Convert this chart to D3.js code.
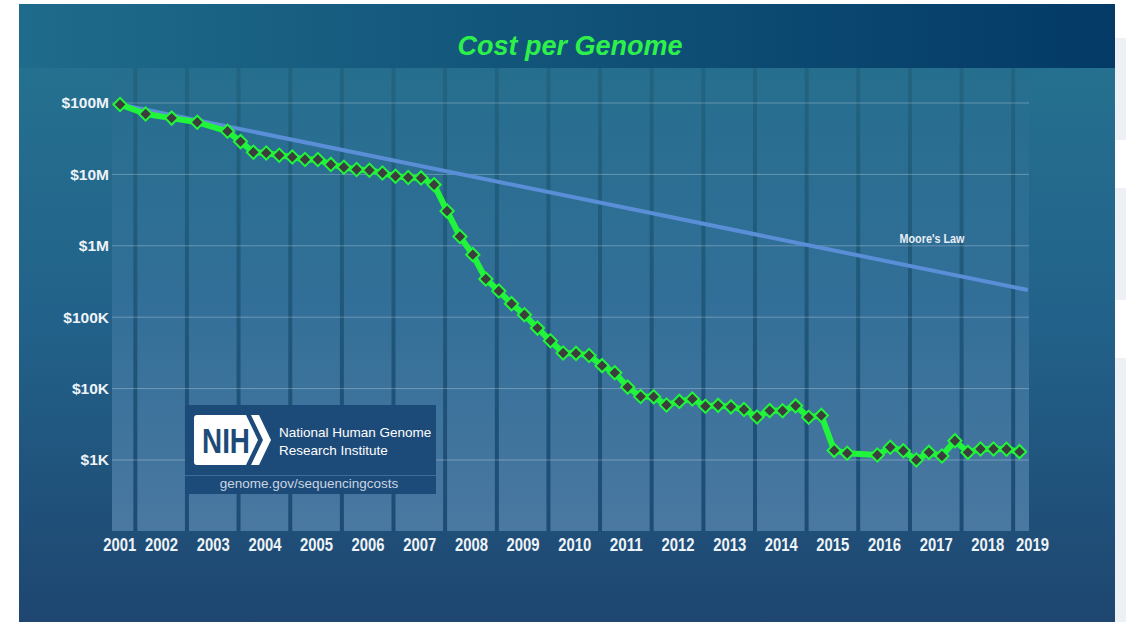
<!DOCTYPE html>
<html>
<head>
<meta charset="utf-8">
<script src="https://cdn.jsdelivr.net/npm/d3@7"></script>
<style>
  body { margin: 0; background: #fff; }
  svg { display: block; font-family: "Liberation Sans", Arial, sans-serif; }
</style>
</head>
<body>
<svg id="chart"></svg>
<script>
// sampling dates (year-month) and cost per genome in dollars
const months = [
  "2001-09", "2002-03", "2002-09", "2003-03", "2003-10",
  "2004-01", "2004-04", "2004-07", "2004-10",
  "2005-01", "2005-04", "2005-07", "2005-10",
  "2006-01", "2006-04", "2006-07", "2006-10",
  "2007-01", "2007-04", "2007-07", "2007-10",
  "2008-01", "2008-04", "2008-07", "2008-10",
  "2009-01", "2009-04", "2009-07", "2009-10",
  "2010-01", "2010-04", "2010-07", "2010-10",
  "2011-01", "2011-04", "2011-07", "2011-10",
  "2012-01", "2012-04", "2012-07", "2012-10",
  "2013-01", "2013-04", "2013-07", "2013-10",
  "2014-01", "2014-04", "2014-07", "2014-10",
  "2015-01", "2015-04", "2015-07", "2015-10",
  "2016-05", "2016-08", "2016-11",
  "2017-02", "2017-05", "2017-08", "2017-11",
  "2018-02", "2018-05", "2018-08", "2018-11",
  "2019-02"
]
const costs = [
  95263072, 70175437, 61448422, 53751684, 40157554,
  28780376, 20442576, 19934346, 18519312,
  17534970, 16159699, 16180224, 13801124,
  12585659, 11732535, 11455315, 10474556,
  9408739, 9047003, 8927342, 7147571,
  3063820, 1352982, 752080, 342502,
  232735, 154714, 108065, 70333,
  46774, 31512, 31125, 29092,
  20963, 16712, 10497, 7743,
  7666, 5901, 6618, 7147,
  5671, 5826, 5550, 5096,
  4008, 4920, 4905, 5731,
  3970, 4211, 1363, 1245,
  1175, 1510, 1350,
  1000, 1280, 1140, 1860,
  1280, 1425, 1425, 1415,
  1310
]

// Moore's law reference line (two ends)
const mooreMonths = ["2001-09", "2019-04"]
const mooreCosts = [95263072, 240000]

const yTicks = [1e8, 1e7, 1e6, 1e5, 1e4, 1e3]
const yTickLabels = ["$100M", "$10M", "$1M", "$100K", "$10K", "$1K"]
const years = [2001, 2002, 2003, 2004, 2005, 2006, 2007, 2008, 2009, 2010,
  2011, 2012, 2013, 2014, 2015, 2016, 2017, 2018, 2019]
const yearLabelDates = ["2001-09-10", "2002-07-02", "2003-07-02", "2004-07-02", "2005-07-02",
  "2006-07-02", "2007-07-02", "2008-07-02", "2009-07-02", "2010-07-02", "2011-07-02",
  "2012-07-02", "2013-07-02", "2014-07-02", "2015-07-02", "2016-07-02", "2017-07-02",
  "2018-07-02", "2019-05-15"]

const w = 1126
const h = 622
const plotLeft = 112, plotRight = 1029, plotTop = 68, plotBottom = 531

const parseMonth = d3.timeParse("%Y-%m")
const parseDay = d3.timeParse("%Y-%m-%d")
const midMonth = s => d3.timeDay.offset(parseMonth(s), 14)

const data = months.map((m, i) => ({ date: midMonth(m), cost: costs[i] }))
const moore = mooreMonths.map((m, i) => ({ date: midMonth(m), cost: mooreCosts[i] }))

const x = d3.scaleTime()
  .domain([new Date(2001, 6, 20), new Date(2019, 3, 23)])
  .range([plotLeft, plotRight])
const y = d3.scaleLog()
  .domain([1e3, 1e8])
  .range([460, 103])

const svg = d3.select("#chart").attr("width", w).attr("height", h)
const defs = svg.append("defs")

function vGrad(id, y1, y2, stops) {
  const g = defs.append("linearGradient").attr("id", id)
    .attr("gradientUnits", "userSpaceOnUse")
    .attr("x1", 0).attr("x2", 0).attr("y1", y1).attr("y2", y2)
  stops.forEach(s => g.append("stop").attr("offset", s[0]).attr("stop-color", s[1]))
}
vGrad("panelGrad", 68, 622, [[0, "#25708f"], [0.45, "#22628a"], [1, "#1e4670"]])
vGrad("colGrad", 68, 531, [[0, "#266e8e"], [0.5, "#326f98"], [1, "#4a78a1"]])
vGrad("stripeGrad", 68, 531, [[0, "#22647f"], [1, "#1e4b75"]])
const tg = defs.append("linearGradient").attr("id", "titleGrad")
  .attr("x1", 0).attr("x2", 1).attr("y1", 0).attr("y2", 0)
tg.append("stop").attr("offset", 0).attr("stop-color", "#1f6b8b")
tg.append("stop").attr("offset", 1).attr("stop-color", "#033a66")

// light shapes on the right margin
svg.selectAll("rect.margin")
  .data([[38, 102], [188, 112], [358, 264]])
  .enter().append("rect")
  .attr("x", 1115).attr("width", 11)
  .attr("y", d => d[0]).attr("height", d => d[1])
  .attr("fill", "#edf0f4")

// panel + title band
svg.append("rect").attr("x", 19).attr("y", 4).attr("width", 1096).attr("height", 618)
  .attr("fill", "url(#panelGrad)")
svg.append("rect").attr("x", 19).attr("y", 4).attr("width", 1096).attr("height", 64)
  .attr("fill", "url(#titleGrad)")
svg.append("text")
  .attr("x", 570).attr("y", 55)
  .attr("text-anchor", "middle")
  .attr("font-size", 27).attr("font-weight", "bold").attr("font-style", "italic")
  .attr("fill", "#2ef04b")
  .text("Cost per Genome")

// plot columns
svg.append("rect")
  .attr("x", plotLeft).attr("y", plotTop)
  .attr("width", plotRight - plotLeft).attr("height", plotBottom - plotTop)
  .attr("fill", "url(#colGrad)")
const yearStarts = years.slice(1).map(yr => new Date(yr, 0, 1))
svg.selectAll("rect.stripe")
  .data(yearStarts)
  .enter().append("rect")
  .attr("class", "stripe")
  .attr("x", d => x(d) - 2).attr("width", 4)
  .attr("y", plotTop).attr("height", plotBottom - plotTop)
  .attr("fill", "url(#stripeGrad)")

// gridlines
svg.selectAll("line.grid")
  .data(yTicks)
  .enter().append("line")
  .attr("x1", plotLeft).attr("x2", plotRight)
  .attr("y1", d => y(d)).attr("y2", d => y(d))
  .attr("stroke", "#ffffff").attr("stroke-opacity", 0.28).attr("stroke-width", 1)

// y axis
const yAxis = svg.append("g")
  .attr("transform", `translate(109,0)`)
  .call(d3.axisLeft(y).tickValues(yTicks).tickFormat((d, i) => yTickLabels[i]).tickSize(0).tickPadding(0))
yAxis.select(".domain").remove()
yAxis.selectAll("text")
  .attr("font-size", 15.5).attr("font-weight", "bold")
  .attr("font-family", "Liberation Sans, Arial, sans-serif")
  .attr("fill", "#eef3f8")

// x axis
const xAxis = svg.append("g")
  .attr("transform", `translate(0,${plotBottom})`)
  .call(d3.axisBottom(x).tickValues(yearLabelDates.map(parseDay)).tickFormat((d, i) => years[i]).tickSize(0).tickPadding(7))
xAxis.select(".domain").remove()
xAxis.selectAll("text")
  .attr("font-size", 18).attr("font-weight", "bold")
  .attr("font-family", "Liberation Sans Narrow, Liberation Sans, Arial, sans-serif")
  .attr("textLength", 33).attr("lengthAdjust", "spacingAndGlyphs")
  .attr("fill", "#eef3f8")

// NIH box
const nih = svg.append("g")
nih.append("rect").attr("x", 185).attr("y", 405).attr("width", 251).attr("height", 89)
  .attr("fill", "#1d4b79")
nih.append("line").attr("x1", 185).attr("x2", 436).attr("y1", 475.5).attr("y2", 475.5)
  .attr("stroke", "#3f6d9b").attr("stroke-width", 1)
nih.append("path")
  .attr("d", "M197,415 H246 L258,440 L246,465 H197 Q194,465 194,462 V418 Q194,415 197,415 Z")
  .attr("fill", "#ffffff")
nih.append("path")
  .attr("d", "M251,415 H259 L271,440 L259,465 H251 L263,440 Z")
  .attr("fill", "#ffffff")
nih.append("text").attr("x", 202).attr("y", 453)
  .attr("font-size", 35).attr("font-weight", "bold").attr("fill", "#1d4b79")
  .attr("textLength", 48).attr("lengthAdjust", "spacingAndGlyphs")
  .text("NIH")
nih.append("text").attr("x", 279).attr("y", 437)
  .attr("font-size", 13.5).attr("fill", "#ffffff")
  .text("National Human Genome")
nih.append("text").attr("x", 279).attr("y", 455)
  .attr("font-size", 13.5).attr("fill", "#ffffff")
  .text("Research Institute")
nih.append("text").attr("x", 309).attr("y", 488)
  .attr("text-anchor", "middle")
  .attr("font-size", 13.5).attr("fill", "#c9d5e3")
  .text("genome.gov/sequencingcosts")

// Moore's law
const line = d3.line().x(d => x(d.date)).y(d => y(d.cost))
svg.append("path")
  .datum(moore)
  .attr("d", line)
  .attr("fill", "none")
  .attr("stroke", "#5a8fd8")
  .attr("stroke-width", 4)
svg.append("text")
  .attr("x", 932).attr("y", 243)
  .attr("text-anchor", "middle")
  .attr("font-size", 13).attr("font-weight", "bold")
  .attr("font-family", "Liberation Sans Narrow, Liberation Sans, Arial, sans-serif")
  .attr("textLength", 65).attr("lengthAdjust", "spacingAndGlyphs")
  .attr("fill", "#e8eef5")
  .text("Moore's Law")

// cost per genome
svg.append("path")
  .datum(data)
  .attr("d", line)
  .attr("fill", "none")
  .attr("stroke", "#21f53b")
  .attr("stroke-width", 6)
  .attr("stroke-linejoin", "round")

svg.selectAll("path.pt")
  .data(data)
  .enter().append("path")
  .attr("class", "pt")
  .attr("d", d3.symbol(d3.symbolSquare, 88))
  .attr("transform", d => `translate(${x(d.date)},${y(d.cost)}) rotate(45)`)
  .attr("fill", "#3d3d3d")
  .attr("stroke", "#21f53b")
  .attr("stroke-width", 2)
</script>
</body>
</html>
